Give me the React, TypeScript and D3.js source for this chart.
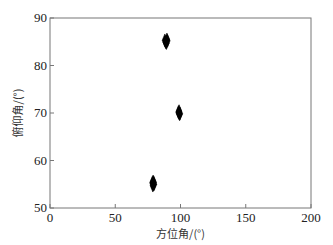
import React from 'react';
import * as d3 from 'd3';

// azimuth / elevation samples, three tight clusters
const azimuth = [88.0, 89.2, 90.0, 88.6, 89.6, 89.0, 98.4, 99.6, 98.9, 99.3, 98.7, 78.4, 79.8, 79.0, 78.8, 79.5, 79.2];
const elevation = [85.3, 84.7, 85.2, 84.9, 85.5, 85.0, 70.2, 69.9, 70.4, 69.7, 70.0, 55.3, 55.0, 55.6, 54.7, 55.4, 54.9];
const xTicks = [0, 50, 100, 150, 200];
const yTicks = [50, 60, 70, 80, 90];

const W = 333;
const H = 245;
const margin = { left: 50, right: 22, top: 18, bottom: 37 };

export default function App() {
  const x = d3.scaleLinear().domain([0, 200]).range([margin.left, W - margin.right]);
  const y = d3.scaleLinear().domain([50, 90]).range([H - margin.bottom, margin.top]);
  const diamond = d3.symbol().type(d3.symbolDiamond).size(30)();
  const axisColor = '#777';
  const font = '"Liberation Serif", "Times New Roman", serif';
  const cjk = '"Noto Sans CJK SC", sans-serif';

  return (
    <svg width={W} height={H} style={{ position: 'absolute', left: 0, top: 0, background: '#fff' }}>
      <rect x={x(0)} y={y(90)} width={x(200) - x(0)} height={y(50) - y(90)}
        fill="none" stroke={axisColor} strokeWidth={1} />
      {xTicks.map(t => (
        <g key={'x' + t}>
          <line x1={x(t)} x2={x(t)} y1={y(50)} y2={y(50) - 4} stroke={axisColor} />
          <text x={x(t)} y={y(50) + 14} textAnchor="middle" fontFamily={font} fontSize={13} fill="#222">{t}</text>
        </g>
      ))}
      {yTicks.map(t => (
        <g key={'y' + t}>
          <line x1={x(0)} x2={x(0) + 4} y1={y(t)} y2={y(t)} stroke={axisColor} />
          <text x={x(0) - 3} y={y(t) + 4} textAnchor="end" fontFamily={font} fontSize={13} fill="#222">{t}</text>
        </g>
      ))}
      {azimuth.map((a, i) => (
        <path key={i} d={diamond!} transform={`translate(${x(a)},${y(elevation[i])}) scale(0.9,1.25)`}
          fill="#000" stroke="#000" strokeWidth={0.5} />
      ))}
      <text x={(x(0) + x(200)) / 2} y={H - 7} textAnchor="middle" fontFamily={cjk} fontSize={11} fill="#333">方位角/(°)</text>
      <text transform={`translate(22,${(y(50) + y(90)) / 2}) rotate(-90)`} textAnchor="middle"
        fontFamily={cjk} fontSize={11} fill="#333">俯仰角/(°)</text>
    </svg>
  );
}
